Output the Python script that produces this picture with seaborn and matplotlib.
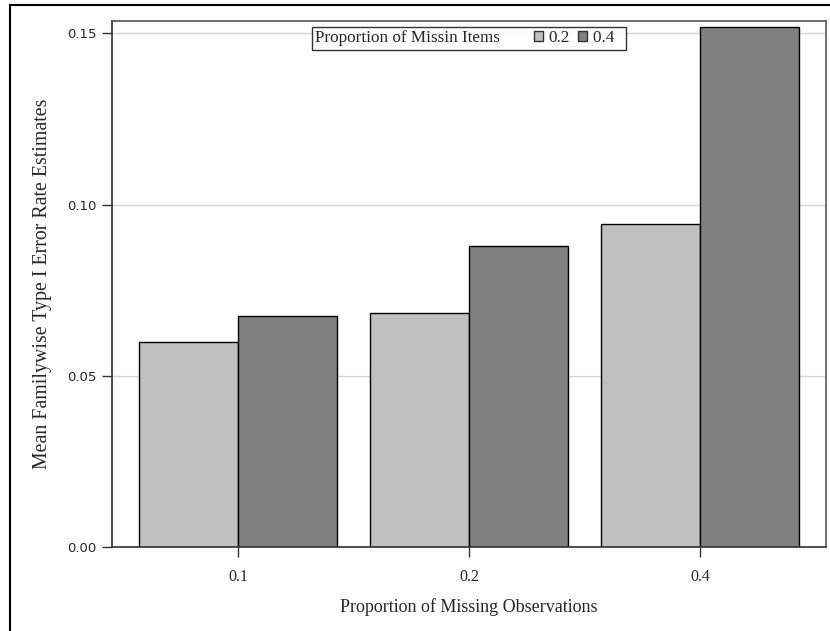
import matplotlib
matplotlib.use("Agg")
import matplotlib.pyplot as plt
from matplotlib.patches import Rectangle
from matplotlib.lines import Line2D
import seaborn as sns
import pandas as pd

# Mean familywise type I error rate by missingness condition
obs_props = ["0.1", "0.2", "0.4"]
item_props = ["0.2", "0.4"]
rate_items_02 = [0.0598, 0.0683, 0.0943]
rate_items_04 = [0.0674, 0.0879, 0.1518]

df = pd.DataFrame({
    "obs": obs_props * 2,
    "items": [item_props[0]] * 3 + [item_props[1]] * 3,
    "rate": rate_items_02 + rate_items_04,
})

sns.set_theme(style="white")
plt.rcParams["font.family"] = ["Liberation Serif", "DejaVu Serif"]

fig = plt.figure(figsize=(8.3, 6.31), dpi=100)
ax = fig.add_axes([112 / 830, 1 - 547 / 631, (826 - 112) / 830, (547 - 21) / 631])

palette = {"0.2": "#c0c0c0", "0.4": "#808080"}
sns.barplot(data=df, x="obs", y="rate", hue="items", order=obs_props,
            hue_order=item_props, palette=palette, width=0.857,
            edgecolor="black", linewidth=1.0, saturation=1, ax=ax, zorder=2)

ax.set_xlim(-0.545, 2.545)
ax.set_ylim(0, 0.1536)
ax.set_yticks([0.0, 0.05, 0.10, 0.15])
ax.set_yticklabels(["0.00", "0.05", "0.10", "0.15"], family="DejaVu Sans", fontsize=9.5)
ax.set_xticks(range(len(obs_props)))
ax.set_xticklabels(obs_props, fontsize=11.5)
ax.yaxis.grid(True, color="#d4d4d4", linewidth=1.0, zorder=0)
ax.set_axisbelow(True)

ax.tick_params(axis="both", direction="out", length=7, width=1, color="#333333",
               left=True, bottom=True, pad=4)
ax.tick_params(axis="x", pad=9)
for side in ["left", "bottom"]:
    ax.spines[side].set_color("#333333")
    ax.spines[side].set_linewidth(1.2)
for side in ["top", "right"]:
    ax.spines[side].set_color("#555555")
    ax.spines[side].set_linewidth(1.2)

ax.set_xlabel("Proportion of Missing Observations", fontsize=13, labelpad=9)
ax.set_ylabel("Mean Familywise Type I Error Rate Estimates", fontsize=14.3, labelpad=11)

# Inline legend: title text followed by the two swatches
blank = Rectangle((0, 0), 1, 1, fill=False, edgecolor="none", visible=False)
h1 = Rectangle((0, 0), 1, 1, facecolor=palette["0.2"], edgecolor="#333333", linewidth=1)
h2 = Rectangle((0, 0), 1, 1, facecolor=palette["0.4"], edgecolor="#333333", linewidth=1)
ax.get_legend().remove()
leg = ax.legend([blank, h1, h2], ["Proportion of Missin Items      ", "0.2", "0.4  "],
                ncol=3, loc="upper center", bbox_to_anchor=(0.5, 0.9886),
                fontsize=12.3, frameon=True, fancybox=False, handlelength=0.5,
                handleheight=0.5, handletextpad=0.35, columnspacing=0.5,
                borderpad=0.2, borderaxespad=0)
leg.get_frame().set_edgecolor("black")
leg.get_frame().set_linewidth(1.0)
leg.legend_handles[0].set_visible(False)
# pull the inline title closer to the frame's left edge
leg._legend_handle_box.get_children()[0].get_children()[0].get_children()[0].width = 0
leg._legend_handle_box.get_children()[0].get_children()[0].sep = 0

# Outer frame lines along the top and left edges
fig.add_artist(Line2D([10 / 830, 10 / 830], [0, 1 - 5 / 631], color="black", linewidth=1.5))
fig.add_artist(Line2D([10 / 830, 1], [1 - 5 / 631, 1 - 5 / 631], color="black", linewidth=1.5))

fig.savefig("out.png", dpi=100)
